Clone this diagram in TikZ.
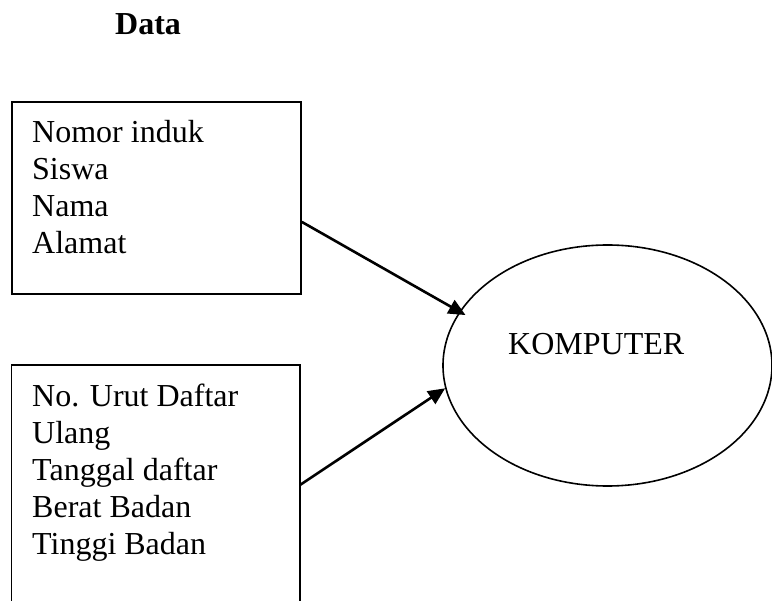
\documentclass[tikz,border=0pt]{standalone}
\usepackage{fontspec}
\setmainfont{Liberation Serif}
\usetikzlibrary{arrows.meta,shapes.geometric}
\begin{document}
\begin{tikzpicture}[x=1pt,y=-1pt,
  txt/.style={font=\fontsize{32}{37}\selectfont, inner sep=0pt, align=left},
  boxline/.style={line width=1.8pt},
  arr/.style={line width=2.6pt, -{Triangle[length=17pt,width=15pt]}}]
\useasboundingbox (0,0) rectangle (772,601);
\node[txt, font=\fontsize{32}{37}\selectfont\bfseries, anchor=base west] (title) at (115,35) {Data};
% top box
\node[draw, boxline, minimum width=289pt, minimum height=192pt, inner sep=0pt, anchor=north west] (box1) at (11,101) {};
\node[txt, anchor=north west] (t1) at (32,120) {Nomor induk\\Siswa\\Nama\\Alamat};
% bottom box (open at the bottom)
\node[minimum width=288.5pt, minimum height=236pt, inner sep=0pt, outer sep=0pt, anchor=north west] (box2) at (11.5,365) {};
\draw[boxline] (box2.south west) -- (box2.north west) -- (box2.north east) -- (box2.south east);
\node[txt, anchor=north west] (t2) at (32,384) {No. Urut Daftar\\Ulang\\Tanggal daftar\\Berat Badan\\Tinggi Badan};
% ellipse
\node[draw, ellipse, line width=1.6pt, minimum width=329pt, minimum height=241pt, inner sep=0pt] (komp) at (607.5,365.5) {};
\node[txt, anchor=base west] (kt) at (508,355) {KOMPUTER};
% arrows
\draw[arr, shorten >=-7pt] ([yshift=-24pt]box1.east) -- (komp.160.3);
\draw[arr] ([yshift=-2pt]box2.east) -- (komp.188.5);
\end{tikzpicture}
\end{document}
